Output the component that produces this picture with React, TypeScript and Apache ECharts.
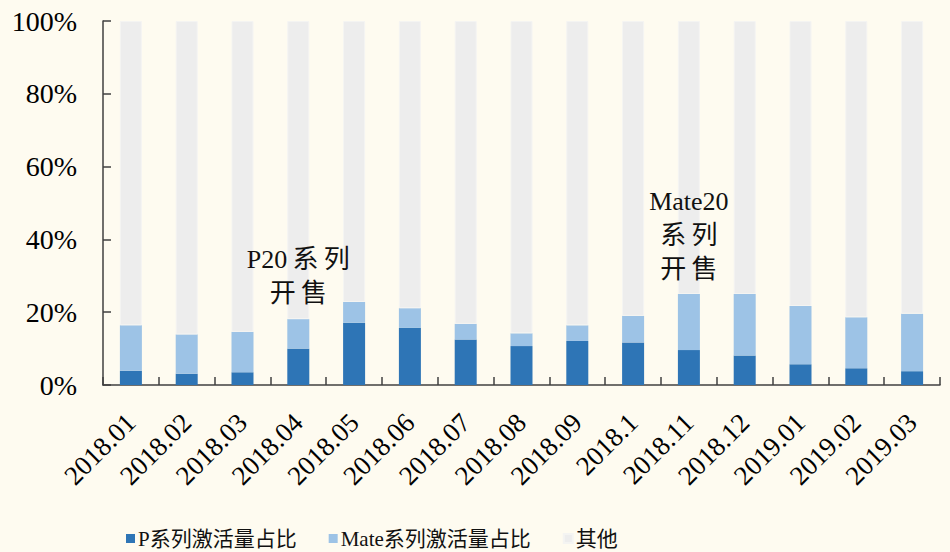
import React, { useEffect, useRef } from "react";
import * as echarts from "echarts";

const categories = [
  "2018.01", "2018.02", "2018.03", "2018.04", "2018.05", "2018.06", "2018.07", "2018.08",
  "2018.09", "2018.1", "2018.11", "2018.12", "2019.01", "2019.02", "2019.03",
];
const pSeries = [3.9, 3.1, 3.5, 10.0, 17.1, 15.7, 12.5, 10.7, 12.1, 11.7, 9.6, 8.1, 5.7, 4.6, 3.8];
const mateSeries = [12.5, 10.8, 11.1, 8.1, 5.7, 5.4, 4.3, 3.5, 4.3, 7.3, 15.4, 16.9, 16.0, 14.0, 15.8];
const otherSeries = pSeries.map((p, i) => +(100 - p - mateSeries[i]).toFixed(1));
const yTicks = [0, 20, 40, 60, 80, 100];
const annotations = [
  { category: "2018.04", value: 29.9, text: "P20\u2009系\u2009列\n开\u2009售" },
  { category: "2018.11", value: 41.0, text: "Mate20\n系\u2009列\n开\u2009售" },
];

const SERIF = "'Liberation Serif', 'Times New Roman', 'Noto Sans CJK SC', serif";

export default function App() {
  const ref = useRef<HTMLDivElement>(null);
  useEffect(() => {
    if (!ref.current) return;
    const chart = echarts.init(ref.current, undefined, { renderer: "svg" });
    chart.setOption({
      animation: false,
      backgroundColor: "#FEFBF0",
      textStyle: { fontFamily: SERIF },
      grid: { left: 103, right: 10, top: 21, bottom: 167 },
      legend: {
        top: 523,
        left: 121,
        itemWidth: 9,
        itemHeight: 9,
        itemGap: 32,
        icon: "rect",
        textStyle: { fontSize: 21, color: "#111", fontFamily: SERIF, padding: [0, 0, 0, -2] },
        data: ["P系列激活量占比", "Mate系列激活量占比", "其他"],
      },
      xAxis: {
        type: "category",
        data: categories,
        axisLine: { lineStyle: { color: "#404040", width: 1.5 } },
        axisTick: { show: true, inside: true, length: 8, interval: 0, lineStyle: { color: "#404040", width: 1.5 } },
        axisLabel: { rotate: 45, interval: 0, fontSize: 27, color: "#000", fontFamily: SERIF, margin: 33 },
      },
      yAxis: {
        type: "value",
        min: 0,
        max: 100,
        interval: 20,
        axisLine: { show: true, lineStyle: { color: "#404040", width: 1.5 } },
        axisTick: { show: true, inside: true, length: 8, lineStyle: { color: "#404040", width: 1.5 } },
        splitLine: { show: false },
        axisLabel: {
          fontSize: 28,
          color: "#000",
          fontFamily: SERIF,
          margin: 26,
          formatter: (v: number) => (yTicks.includes(v) ? v + "%" : ""),
        },
      },
      series: [
        {
          name: "P系列激活量占比",
          type: "bar",
          stack: "total",
          barWidth: 22,
          data: pSeries,
          itemStyle: { color: "#2E75B6" },
        },
        {
          name: "Mate系列激活量占比",
          type: "bar",
          stack: "total",
          barWidth: 22,
          data: mateSeries,
          itemStyle: { color: "#9DC3E6" },
        },
        {
          name: "其他",
          type: "bar",
          stack: "total",
          barWidth: 22,
          data: otherSeries,
          itemStyle: { color: "#EDEDED", borderColor: "#F4F4F2", borderWidth: 1 },
          markPoint: {
            symbol: "rect",
            symbolSize: 1,
            itemStyle: { color: "transparent" },
            label: {
              show: true,
              position: "inside",
              fontSize: 26,
              lineHeight: 34,
              color: "#111",
              fontFamily: SERIF,
              formatter: (p: any) => p.name,
            },
            data: annotations.map((a) => ({ name: a.text, coord: [a.category, a.value] })),
          },
        },
      ],
    });
    return () => chart.dispose();
  }, []);
  return <div ref={ref} style={{ width: 950, height: 552, position: "absolute", left: 0, top: 0 }} />;
}
